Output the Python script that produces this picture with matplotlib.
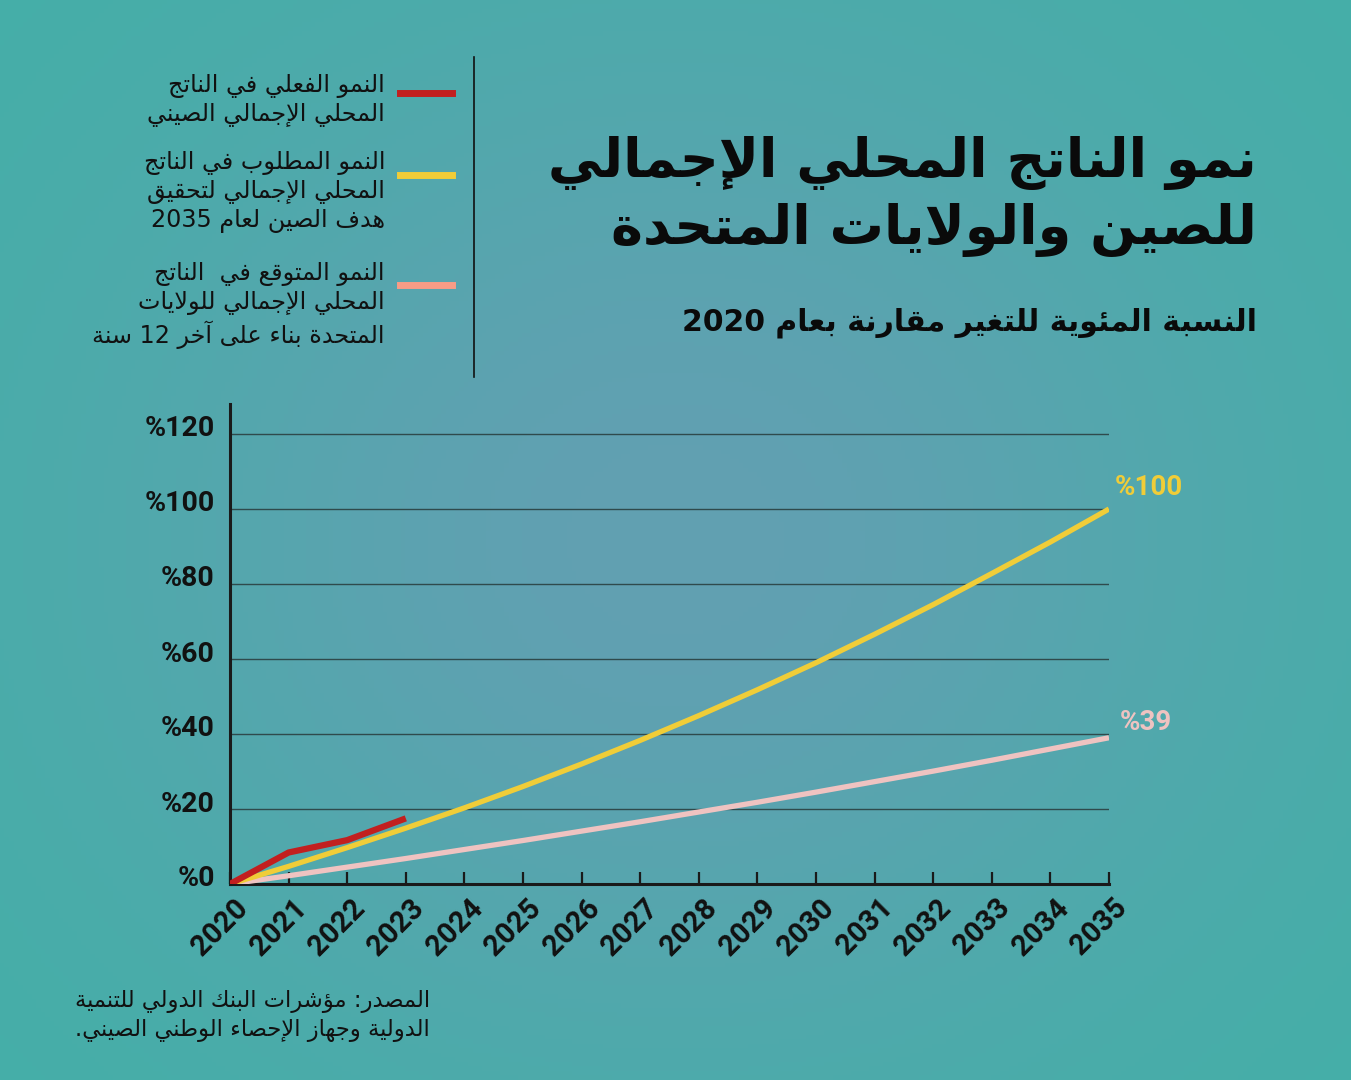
import re
import numpy as np
import matplotlib
matplotlib.use("Agg")
from matplotlib import pyplot as plt
from matplotlib.lines import Line2D
from matplotlib.transforms import ScaledTranslation

# data (percent change vs 2020)
years = list(range(2020, 2036))
actual_years = [2020, 2021, 2022, 2023]
china_actual = [0, 8.4, 11.7, 17.5]
china_target = [0, 4.7, 9.7, 14.9, 20.3, 26.0, 32.0, 38.3, 44.9, 51.8, 59.0, 66.6, 74.5, 82.8, 91.2, 100.0]
us_projected = [0, 2.2, 4.5, 6.8, 9.2, 11.6, 14.1, 16.6, 19.2, 21.8, 24.5, 27.3, 30.1, 33.0, 36.0, 39.0]
y_ticks = [0, 20, 40, 60, 80, 100, 120]
y_tick_labels = ["%0", "%20", "%40", "%60", "%80", "%100", "%120"]

title = "نمو الناتج المحلي الإجمالي\nللصين والولايات المتحدة"
subtitle = "النسبة المئوية للتغير مقارنة بعام 2020"
legend_labels = [
    "النمو الفعلي في الناتج\nالمحلي الإجمالي الصيني",
    "النمو المطلوب في الناتج\nالمحلي الإجمالي لتحقيق\nهدف الصين لعام 2035",
    "النمو المتوقع في  الناتج\nالمحلي الإجمالي للولايات\nالمتحدة بناء على آخر 12 سنة",
]
source = "المصدر: مؤشرات البنك الدولي للتنمية\nالدولية وجهاز الإحصاء الوطني الصيني."

RED = "#c21f1f"
YELLOW = "#f0cd38"
PINK = "#efc3c1"
SALMON = "#f89c86"

# --- tiny arabic shaper (matplotlib has no RTL/shaping) ---
FORMS = {
    'ء': (0xFE80, 1), 'آ': (0xFE81, 2), 'أ': (0xFE83, 2), 'ؤ': (0xFE85, 2),
    'إ': (0xFE87, 2), 'ئ': (0xFE89, 4), 'ا': (0xFE8D, 2), 'ب': (0xFE8F, 4),
    'ة': (0xFE93, 2), 'ت': (0xFE95, 4), 'ث': (0xFE99, 4), 'ج': (0xFE9D, 4),
    'ح': (0xFEA1, 4), 'خ': (0xFEA5, 4), 'د': (0xFEA9, 2), 'ذ': (0xFEAB, 2),
    'ر': (0xFEAD, 2), 'ز': (0xFEAF, 2), 'س': (0xFEB1, 4), 'ش': (0xFEB5, 4),
    'ص': (0xFEB9, 4), 'ض': (0xFEBD, 4), 'ط': (0xFEC1, 4), 'ظ': (0xFEC5, 4),
    'ع': (0xFEC9, 4), 'غ': (0xFECD, 4), 'ف': (0xFED1, 4), 'ق': (0xFED5, 4),
    'ك': (0xFED9, 4), 'ل': (0xFEDD, 4), 'م': (0xFEE1, 4), 'ن': (0xFEE5, 4),
    'ه': (0xFEE9, 4), 'و': (0xFEED, 2), 'ى': (0xFEEF, 2), 'ي': (0xFEF1, 4),
}
LAM_ALEF = {'ا': 0xFEFB, 'آ': 0xFEF5, 'أ': 0xFEF7, 'إ': 0xFEF9}


def shape_line(line):
    chars = []
    i = 0
    while i < len(line):
        if line[i] == 'ل' and i + 1 < len(line) and line[i + 1] in LAM_ALEF:
            chars.append(('LA', line[i + 1]))
            i += 2
        else:
            chars.append((line[i], None))
            i += 1
    out = []
    for k, (c, a) in enumerate(chars):
        prev = chars[k - 1][0] if k > 0 else None
        nxt = chars[k + 1][0] if k + 1 < len(chars) else None
        joins_prev = prev in FORMS and FORMS[prev][1] == 4
        if c == 'LA':
            out.append(chr(LAM_ALEF[a] + (1 if joins_prev else 0)))
            continue
        if c not in FORMS:
            out.append(c)
            continue
        start, n = FORMS[c]
        joins_next = n == 4 and (nxt == 'LA' or (nxt in FORMS and FORMS[nxt][1] > 1))
        if n == 1:
            f = 0
        elif n == 2:
            f = 1 if joins_prev else 0
        else:
            f = 3 if (joins_prev and joins_next) else 1 if joins_prev else 2 if joins_next else 0
        out.append(chr(start + f))
    vis = ''.join(reversed(out))
    return re.sub(r'[0-9]+', lambda m: m.group(0)[::-1], vis)


def ar(text):
    return '\n'.join(shape_line(l) for l in text.split('\n'))


W, H = 1351, 1080
fig = plt.figure(figsize=(W / 100, H / 100), dpi=100)


def px(x, y):
    return x / W, 1 - y / H


# background gradient
bg = fig.add_axes([0, 0, 1, 1], zorder=-10)
gx, gy = np.meshgrid(np.linspace(0, 1, 300), np.linspace(0, 1, 240))
r2 = ((gx - 0.5) / 0.45) ** 2 + ((gy - 0.5) / 0.5) ** 2
wgt = np.exp(-r2)[..., None]
c_in = np.array([0x62, 0xa0, 0xb2]) / 255
c_out = np.array([0x42, 0xb0, 0xa7]) / 255
img = c_in[None, None, :] * wgt + c_out[None, None, :] * (1 - wgt)
bg.imshow(img, aspect='auto', extent=[0, 1, 0, 1])
bg.axis('off')

num_font = ['Roboto', 'DejaVu Sans']
ar_font = ['DejaVu Sans']

# main chart
l, b = px(230, 884)
rr, t = px(1109, 404)
ax = fig.add_axes([l, b, rr - l, t - b])
ax.patch.set_alpha(0)
ax.plot(years, us_projected, color=PINK, lw=3.8, solid_capstyle='butt', zorder=3)
ax.plot(years, china_target, color=YELLOW, lw=3.8, solid_capstyle='butt', zorder=4)
ax.plot(actual_years, china_actual, color=RED, lw=4.5, solid_capstyle='butt', zorder=5)

ax.set_xlim(2020, 2035)
ax.set_ylim(0, 128)
ax.set_yticks(y_ticks)
ax.set_yticklabels(y_tick_labels, fontfamily=num_font, fontweight='bold', fontsize=20.5, color='#111111')
ax.set_xticks(years)
ax.set_xticklabels([str(y) for y in years], rotation=45, ha='right', va='top',
                   rotation_mode='anchor', fontfamily=num_font, fontweight='bold', fontsize=21, color='#111111')
ax.tick_params(axis='x', direction='in', length=9, width=1.6, color='#1a1a1a', pad=7)
ax.tick_params(axis='y', length=0, pad=11)
for lab in ax.get_yticklabels():
    lab.set_transform(lab.get_transform() + ScaledTranslation(0, 0.08, fig.dpi_scale_trans))
for lab in ax.get_xticklabels():
    lab.set_transform(lab.get_transform() + ScaledTranslation(0.04, 0, fig.dpi_scale_trans))
ax.yaxis.grid(True, color='#2f4a4c', lw=1.0)
ax.set_axisbelow(True)
for s in ['top', 'right']:
    ax.spines[s].set_visible(False)
for s in ['left', 'bottom']:
    ax.spines[s].set_color('#1a1a1a')
    ax.spines[s].set_linewidth(2.2)

ax.annotate("%100", (years[-1], china_target[-1]), xytext=(4, 6), textcoords='offset points',
            ha='left', va='bottom', color=YELLOW, fontfamily=num_font, fontweight='bold', fontsize=20)
ax.annotate("%39", (years[-1], us_projected[-1]), xytext=(8, 1), textcoords='offset points',
            ha='left', va='bottom', color=PINK, fontfamily=num_font, fontweight='bold', fontsize=20)

# title block
fig.text(*px(1257, 136), ar(title), ha='right', va='top', fontfamily=ar_font, fontweight='bold',
         fontsize=39, linespacing=1.32, color='#0a0a0a')
fig.text(*px(1257, 323), ar(subtitle), ha='right', va='center', fontfamily=ar_font, fontweight='bold',
         fontsize=21.5, color='#0a0a0a')

# legend
fig.add_artist(Line2D([474 / W, 474 / W], [1 - 57 / H, 1 - 377 / H], color='#111111', lw=1.2))
leg_colors = [RED, YELLOW, SALMON]
leg_line_y = [93, 175, 285]
leg_text_y = [74, 151, 262]
for lab, col, ly, ty in zip(legend_labels, leg_colors, leg_line_y, leg_text_y):
    fig.add_artist(Line2D([400 / W, 452 / W], [1 - ly / H] * 2, color=col, lw=5))
    fig.text(*px(385, ty), ar(lab), ha='right', va='top', fontfamily=ar_font, fontsize=17.2,
             linespacing=1.22, color='#111111')

fig.text(*px(430, 990), ar(source), ha='right', va='top', fontfamily=ar_font, fontsize=16.3,
         linespacing=1.3, color='#111111')

fig.savefig("out.png", dpi=100)
